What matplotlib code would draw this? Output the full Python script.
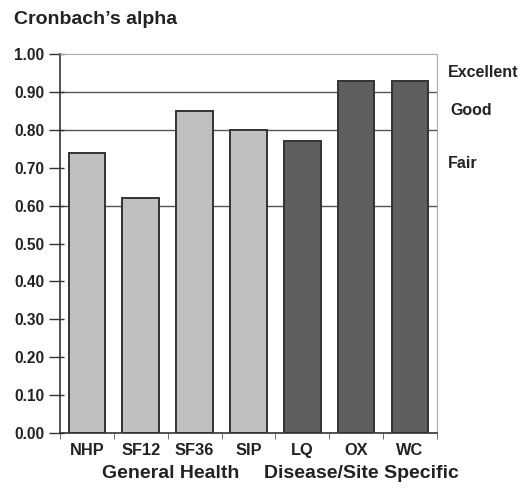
import matplotlib
matplotlib.use("Agg")
import matplotlib.pyplot as plt
import numpy as np

categories = ["NHP", "SF12", "SF36", "SIP", "LQ", "OX", "WC"]
alpha_values = [0.74, 0.62, 0.85, 0.80, 0.77, 0.93, 0.93]
groups = ["General", "General", "General", "General", "Specific", "Specific", "Specific"]
group_labels = ["General Health", "Disease/Site Specific"]
yticks = [0.0, 0.1, 0.2, 0.3, 0.4, 0.5, 0.6, 0.7, 0.8, 0.9, 1.0]
thresholds = [0.6, 0.8, 0.9]
band_labels = ["Excellent", "Good", "Fair"]
band_pos = [0.95, 0.85, 0.71]

plt.rcParams['font.family'] = ['Liberation Sans', 'DejaVu Sans']
fig = plt.figure(figsize=(5.27, 4.9), dpi=100)
ax = fig.add_axes([0.1139, 0.1163, 0.829 - 0.1139, 0.8898 - 0.1163])

colors = {"General": "#c0c0c0", "Specific": "#5f5f5f"}
x = np.arange(len(categories))
for t in thresholds:
    ax.axhline(t, color="#555555", lw=1.0, zorder=1)
ax.bar(x, alpha_values, width=0.68, color=[colors[g] for g in groups],
       edgecolor="#333333", linewidth=1.4, zorder=2)

ax.set_xlim(-0.5, len(categories) - 0.5)
ax.set_ylim(0, 1.0)
ax.set_yticks(yticks)
ax.set_yticklabels([f"{v:.2f}" for v in yticks], fontsize=11.2, fontweight="bold", color="#222222")
ax.yaxis.remove_overlapping_locs = False
ax.set_yticks(yticks, minor=True)
ax.tick_params(axis="y", which="major", direction="out", length=8, color="#333333", width=1.0, pad=3.5)
ax.tick_params(axis="y", which="minor", direction="in", length=3, color="#333333", width=1.0)

ax.set_xticks(x)
ax.set_xticklabels(categories, fontsize=11.8, fontweight="bold", color="#222222")
ax.tick_params(axis="x", which="major", length=0, pad=7)
ax.set_xticks(np.arange(-0.5, len(categories), 1.0), minor=True)
ax.tick_params(axis="x", which="minor", length=4, color="#555555")

ax.spines["left"].set_color("#333333")
ax.spines["left"].set_linewidth(1.2)
ax.spines["bottom"].set_color("#333333")
ax.spines["bottom"].set_linewidth(1.2)
ax.spines["top"].set_color("#aaaaaa")
ax.spines["right"].set_color("#aaaaaa")

for lab, yv, dx in zip(band_labels, band_pos, [1.03, 1.036, 1.03]):
    ax.text(dx, yv, lab, transform=ax.get_yaxis_transform(), fontsize=11.5,
            fontweight="bold", color="#222222", va="center", ha="left")

ax.text(1.56, -0.108, group_labels[0], transform=ax.get_xaxis_transform(), fontsize=14,
        fontweight="bold", color="#222222", ha="center", va="center")
ax.text(5.1, -0.108, group_labels[1], transform=ax.get_xaxis_transform(), fontsize=14,
        fontweight="bold", color="#222222", ha="center", va="center")

fig.text(14 / 527, 1 - 20 / 490, "Cronbach\u2019s alpha", fontsize=14, fontweight="bold",
         color="#222222", ha="left", va="center")

fig.savefig("out.png", dpi=100)
